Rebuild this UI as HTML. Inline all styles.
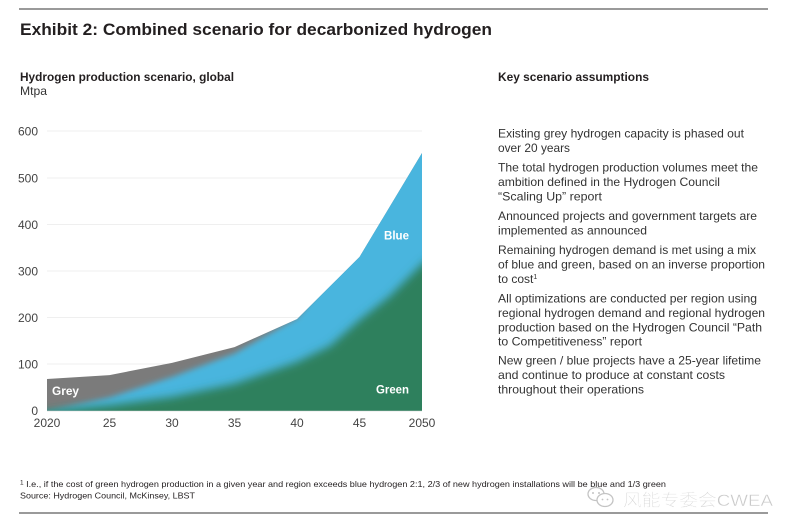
<!DOCTYPE html>
<html>
<head>
<meta charset="utf-8">
<style>
  html, body { margin: 0; padding: 0; background: #ffffff; }
  svg { display: block; }
  text { font-family: "Liberation Sans", Arial, sans-serif; }
</style>
</head>
<body>
<svg width="800" height="532" viewBox="0 0 800 532" xmlns="http://www.w3.org/2000/svg">
  <defs>
    <clipPath id="totalClip">
      <polygon points="47,411 47,379 109.5,375.1 172,362.9 234.5,347.1 297,319.1 359.5,257 422,153 422,411"/>
    </clipPath>
    <filter id="blur" x="-20%" y="-20%" width="140%" height="140%">
      <feGaussianBlur stdDeviation="3"/>
    </filter>
    <filter id="blur2" x="-20%" y="-20%" width="140%" height="140%">
      <feGaussianBlur stdDeviation="4.5"/>
    </filter>
  </defs>

  <!-- top rule -->
  <rect x="19" y="8" width="749" height="2" fill="#9a9a9a"/>

  <!-- title -->
  <text x="20" y="35" font-size="17" font-weight="bold" fill="#231f20" textLength="472" lengthAdjust="spacingAndGlyphs">Exhibit 2: Combined scenario for decarbonized hydrogen</text>

  <!-- left subtitle -->
  <text x="20" y="81" font-size="12" font-weight="bold" fill="#231f20" textLength="214" lengthAdjust="spacingAndGlyphs">Hydrogen production scenario, global</text>
  <text x="20" y="95" font-size="12" fill="#333" textLength="27" lengthAdjust="spacingAndGlyphs">Mtpa</text>

  <!-- gridlines -->
  <g stroke="#efefef" stroke-width="1">
    <line x1="47" y1="131" x2="422" y2="131"/>
    <line x1="47" y1="178" x2="422" y2="178"/>
    <line x1="47" y1="224.5" x2="422" y2="224.5"/>
    <line x1="47" y1="271" x2="422" y2="271"/>
    <line x1="47" y1="317.5" x2="422" y2="317.5"/>
    <line x1="47" y1="364" x2="422" y2="364"/>
  </g>

  <!-- y labels -->
  <g font-size="12" fill="#444" text-anchor="end">
    <text x="38" y="135.5">600</text>
    <text x="38" y="182.5">500</text>
    <text x="38" y="229">400</text>
    <text x="38" y="275.5">300</text>
    <text x="38" y="322">200</text>
    <text x="38" y="368.5">100</text>
    <text x="38" y="415">0</text>
  </g>

  <!-- areas -->
  <g clip-path="url(#totalClip)">
    <rect x="40" y="140" width="390" height="280" fill="#7b7b7b"/>
    <polygon filter="url(#blur)" fill="#48b5de"
      points="30,430 30,413 47,411 109.5,397.5 172,377 234.5,353.5 297,318 359.5,240 422,135 440,120 440,430"/>
    <polygon filter="url(#blur2)" fill="#2e805d"
      points="30,430 30,413 47,411 109.5,405.4 172,397 234.5,383.9 297,362 330,346 359.5,320 390,296 422,264 440,250 440,430"/>
  </g>

  <!-- baseline -->
  <line x1="47" y1="411" x2="422" y2="411" stroke="#cfcfcf" stroke-width="0.6"/>

  <!-- inner labels -->
  <text x="52" y="395" font-size="11.5" font-weight="bold" fill="#ffffff" textLength="27" lengthAdjust="spacingAndGlyphs">Grey</text>
  <text x="376" y="393.5" font-size="11.5" font-weight="bold" fill="#ffffff" textLength="33" lengthAdjust="spacingAndGlyphs">Green</text>
  <text x="384" y="239.5" font-size="11.5" font-weight="bold" fill="#ffffff" textLength="25" lengthAdjust="spacingAndGlyphs">Blue</text>

  <!-- x labels -->
  <g font-size="12" fill="#444" text-anchor="middle">
    <text x="47" y="427">2020</text>
    <text x="109.5" y="427">25</text>
    <text x="172" y="427">30</text>
    <text x="234.5" y="427">35</text>
    <text x="297" y="427">40</text>
    <text x="359.5" y="427">45</text>
    <text x="422" y="427">2050</text>
  </g>

  <!-- right column -->
  <text x="498" y="81" font-size="12" font-weight="bold" fill="#231f20" textLength="151" lengthAdjust="spacingAndGlyphs">Key scenario assumptions</text>
  <g font-size="12" fill="#333">
    <text x="498" y="137.5" textLength="246" lengthAdjust="spacingAndGlyphs">Existing grey hydrogen capacity is phased out</text>
    <text x="498" y="152" textLength="72" lengthAdjust="spacingAndGlyphs">over 20 years</text>
    <text x="498" y="171.5" textLength="260" lengthAdjust="spacingAndGlyphs">The total hydrogen production volumes meet the</text>
    <text x="498" y="186" textLength="222" lengthAdjust="spacingAndGlyphs">ambition defined in the Hydrogen Council</text>
    <text x="498" y="200.5" textLength="104" lengthAdjust="spacingAndGlyphs">“Scaling Up” report</text>
    <text x="498" y="220" textLength="259" lengthAdjust="spacingAndGlyphs">Announced projects and government targets are</text>
    <text x="498" y="234.5" textLength="149" lengthAdjust="spacingAndGlyphs">implemented as announced</text>
    <text x="498" y="254" textLength="258" lengthAdjust="spacingAndGlyphs">Remaining hydrogen demand is met using a mix</text>
    <text x="498" y="268.5" textLength="267" lengthAdjust="spacingAndGlyphs">of blue and green, based on an inverse proportion</text>
    <text x="498" y="283">to cost<tspan font-size="7" dy="-4">1</tspan></text>
    <text x="498" y="302.5" textLength="259" lengthAdjust="spacingAndGlyphs">All optimizations are conducted per region using</text>
    <text x="498" y="317" textLength="267" lengthAdjust="spacingAndGlyphs">regional hydrogen demand and regional hydrogen</text>
    <text x="498" y="331.5" textLength="264" lengthAdjust="spacingAndGlyphs">production based on the Hydrogen Council “Path</text>
    <text x="498" y="345.5" textLength="144" lengthAdjust="spacingAndGlyphs">to Competitiveness” report</text>
    <text x="498" y="364.5" textLength="263" lengthAdjust="spacingAndGlyphs">New green / blue projects have a 25-year lifetime</text>
    <text x="498" y="379" textLength="227" lengthAdjust="spacingAndGlyphs">and continue to produce at constant costs</text>
    <text x="498" y="393.5" textLength="146" lengthAdjust="spacingAndGlyphs">throughout their operations</text>
  </g>

  <!-- footnotes -->
  <text x="20" y="487" font-size="8.5" fill="#231f20" textLength="646" lengthAdjust="spacingAndGlyphs"><tspan font-size="6" dy="-2.5">1</tspan><tspan dy="2.5"> I.e., if the cost of green hydrogen production in a given year and region exceeds blue hydrogen 2:1, 2/3 of new hydrogen installations will be blue and 1/3 green</tspan></text>
  <text x="20" y="498.5" font-size="8.5" fill="#231f20" textLength="175" lengthAdjust="spacingAndGlyphs">Source: Hydrogen Council, McKinsey, LBST</text>

  <!-- watermark -->
  <g fill="none" stroke="#c4c4c4" stroke-width="1.3">
    <ellipse cx="596" cy="494" rx="8" ry="6.5" fill="#ffffff"/>
    <ellipse cx="605" cy="500" rx="8" ry="6.5" fill="#ffffff"/>
  </g>
  <g fill="#c4c4c4">
    <circle cx="593" cy="493" r="1"/>
    <circle cx="599" cy="493" r="1"/>
    <circle cx="602.5" cy="499.5" r="0.9"/>
    <circle cx="607.5" cy="499.5" r="0.9"/>
  </g>
  <text x="623" y="506" font-size="17" fill="#cacaca" stroke="#ffffff" stroke-width="0.4" textLength="150" lengthAdjust="spacingAndGlyphs" style='font-family:"Liberation Sans","Noto Sans CJK SC",sans-serif;font-weight:300'>风能专委会CWEA</text>

  <!-- bottom rule -->
  <rect x="19" y="512" width="749" height="2" fill="#9a9a9a"/>
</svg>
</body>
</html>
